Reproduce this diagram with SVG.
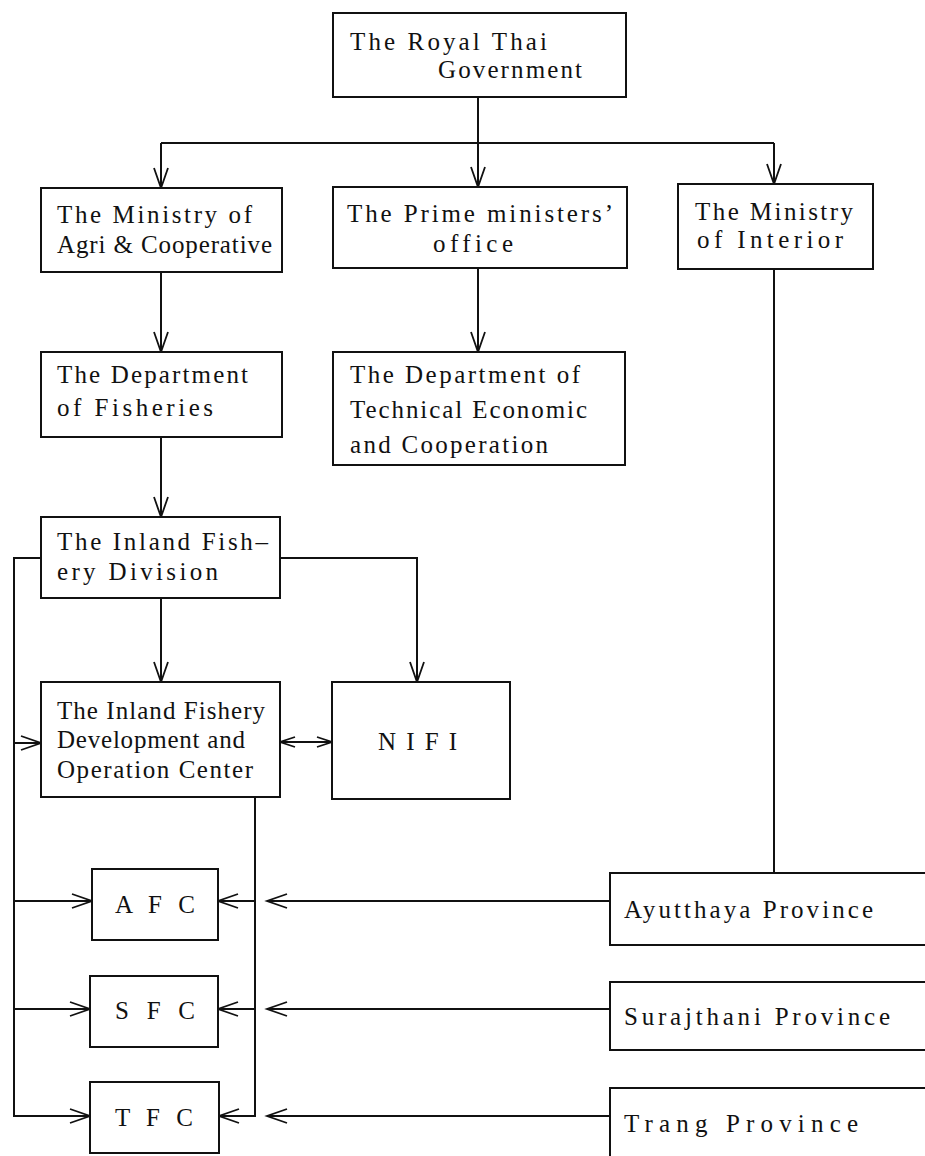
<svg xmlns="http://www.w3.org/2000/svg" width="925" height="1156" viewBox="0 0 925 1156">
<defs>
<style>
.box{fill:#fff;stroke:#111;stroke-width:2}
.t{font-family:"Liberation Serif","DejaVu Serif",serif;font-size:25px;fill:#111}
.c{fill:none;stroke:#111;stroke-width:2}
</style>
<marker id="a" markerUnits="userSpaceOnUse" markerWidth="24" markerHeight="20" refX="0" refY="0" viewBox="-22 -10 24 20" orient="auto-start-reverse" overflow="visible">
<path d="M-20,-7 L0,0 L-20,7" fill="none" stroke="#111" stroke-width="1.8"/>
</marker>
<marker id="s" markerUnits="userSpaceOnUse" markerWidth="20" markerHeight="16" refX="0" refY="0" viewBox="-18 -8 20 16" orient="auto-start-reverse" overflow="visible">
<path d="M-15,-5 L0,0 L-15,5" fill="none" stroke="#111" stroke-width="1.8"/>
</marker>
</defs>
<rect width="925" height="1156" fill="#fff"/>
<g id="connectors">
<path class="c" d="M478,97 V187" marker-end="url(#a)"/>
<path class="c" d="M161,143 H774"/>
<path class="c" d="M161,143 V188" marker-end="url(#a)"/>
<path class="c" d="M774,143 V184" marker-end="url(#a)"/>
<path class="c" d="M161,272 V352" marker-end="url(#a)"/>
<path class="c" d="M478,268 V352" marker-end="url(#a)"/>
<path class="c" d="M161,437 V517" marker-end="url(#a)"/>
<path class="c" d="M774,269 V873"/>
<path class="c" d="M41,558 H14 V1116 H90" marker-end="url(#a)"/>
<path class="c" d="M14,743 H41" marker-end="url(#a)"/>
<path class="c" d="M14,901 H92" marker-end="url(#a)"/>
<path class="c" d="M14,1009 H90" marker-end="url(#a)"/>
<path class="c" d="M280,558 H417 V682" marker-end="url(#a)"/>
<path class="c" d="M161,598 V682" marker-end="url(#a)"/>
<path class="c" d="M280,742 H332" marker-start="url(#s)" marker-end="url(#s)"/>
<path class="c" d="M255,797 V1116 H219" marker-end="url(#a)"/>
<path class="c" d="M255,901 H218" marker-end="url(#a)"/>
<path class="c" d="M255,1009 H218" marker-end="url(#a)"/>
<path class="c" d="M610,901 H267" marker-end="url(#a)"/>
<path class="c" d="M610,1009 H267" marker-end="url(#a)"/>
<path class="c" d="M610,1116 H267" marker-end="url(#a)"/>
</g>
<g id="rtg">
<rect class="box" x="333" y="13" width="293" height="84"/>
<text class="t" x="350" y="50" textLength="197" lengthAdjust="spacing">The Royal Thai</text>
<text class="t" x="438" y="78" textLength="144" lengthAdjust="spacing">Government</text>
</g>
<g id="agri">
<rect class="box" x="41" y="188" width="241" height="84"/>
<text class="t" x="57" y="223" textLength="195" lengthAdjust="spacing">The Ministry of</text>
<text class="t" x="57" y="253" textLength="215" lengthAdjust="spacing">Agri &amp; Cooperative</text>
</g>
<g id="prime">
<rect class="box" x="333" y="187" width="294" height="81"/>
<text class="t" x="347" y="222" textLength="266" lengthAdjust="spacing">The Prime ministers’</text>
<text class="t" x="433" y="252" textLength="80" lengthAdjust="spacing">office</text>
</g>
<g id="interior">
<rect class="box" x="678" y="184" width="195" height="85"/>
<text class="t" x="695" y="220" textLength="158" lengthAdjust="spacing">The Ministry</text>
<text class="t" x="697" y="248" textLength="146" lengthAdjust="spacing">of Interior</text>
</g>
<g id="fisheries">
<rect class="box" x="41" y="352" width="241" height="85"/>
<text class="t" x="57" y="383" textLength="191" lengthAdjust="spacing">The Department</text>
<text class="t" x="57" y="416" textLength="156" lengthAdjust="spacing">of Fisheries</text>
</g>
<g id="dtec">
<rect class="box" x="333" y="352" width="292" height="113"/>
<text class="t" x="350" y="383" textLength="230" lengthAdjust="spacing">The Department of</text>
<text class="t" x="350" y="418" textLength="237" lengthAdjust="spacing">Technical Economic</text>
<text class="t" x="350" y="453" textLength="198" lengthAdjust="spacing">and Cooperation</text>
</g>
<g id="ifd">
<rect class="box" x="41" y="517" width="239" height="81"/>
<text class="t" x="57" y="550" textLength="211" lengthAdjust="spacing">The Inland Fish–</text>
<text class="t" x="57" y="580" textLength="161" lengthAdjust="spacing">ery Division</text>
</g>
<g id="ifdoc">
<rect class="box" x="41" y="682" width="239" height="115"/>
<text class="t" x="57" y="719" textLength="208" lengthAdjust="spacing">The Inland Fishery</text>
<text class="t" x="57" y="748" textLength="188" lengthAdjust="spacing">Development and</text>
<text class="t" x="57" y="778" textLength="196" lengthAdjust="spacing">Operation Center</text>
</g>
<g id="nifi">
<rect class="box" x="332" y="682" width="178" height="117"/>
<text class="t" x="378" y="750" textLength="79" lengthAdjust="spacing">N I F I</text>
</g>
<g id="afc">
<rect class="box" x="92" y="869" width="126" height="71"/>
<text class="t" x="115" y="913" textLength="80" lengthAdjust="spacing">A F C</text>
</g>
<g id="sfc">
<rect class="box" x="90" y="976" width="128" height="71"/>
<text class="t" x="115" y="1019" textLength="80" lengthAdjust="spacing">S F C</text>
</g>
<g id="tfc">
<rect class="box" x="90" y="1082" width="129" height="71"/>
<text class="t" x="115" y="1126" textLength="78" lengthAdjust="spacing">T F C</text>
</g>
<g id="ayutthaya">
<rect class="box" x="610" y="873" width="330" height="72"/>
<text class="t" x="624" y="918" textLength="249" lengthAdjust="spacing">Ayutthaya Province</text>
</g>
<g id="surajthani">
<rect class="box" x="610" y="982" width="330" height="68"/>
<text class="t" x="624" y="1025" textLength="266" lengthAdjust="spacing">Surajthani Province</text>
</g>
<g id="trang">
<rect class="box" x="610" y="1088" width="330" height="90"/>
<text class="t" x="624" y="1132" textLength="234" lengthAdjust="spacing">Trang Province</text>
</g>
</svg>
